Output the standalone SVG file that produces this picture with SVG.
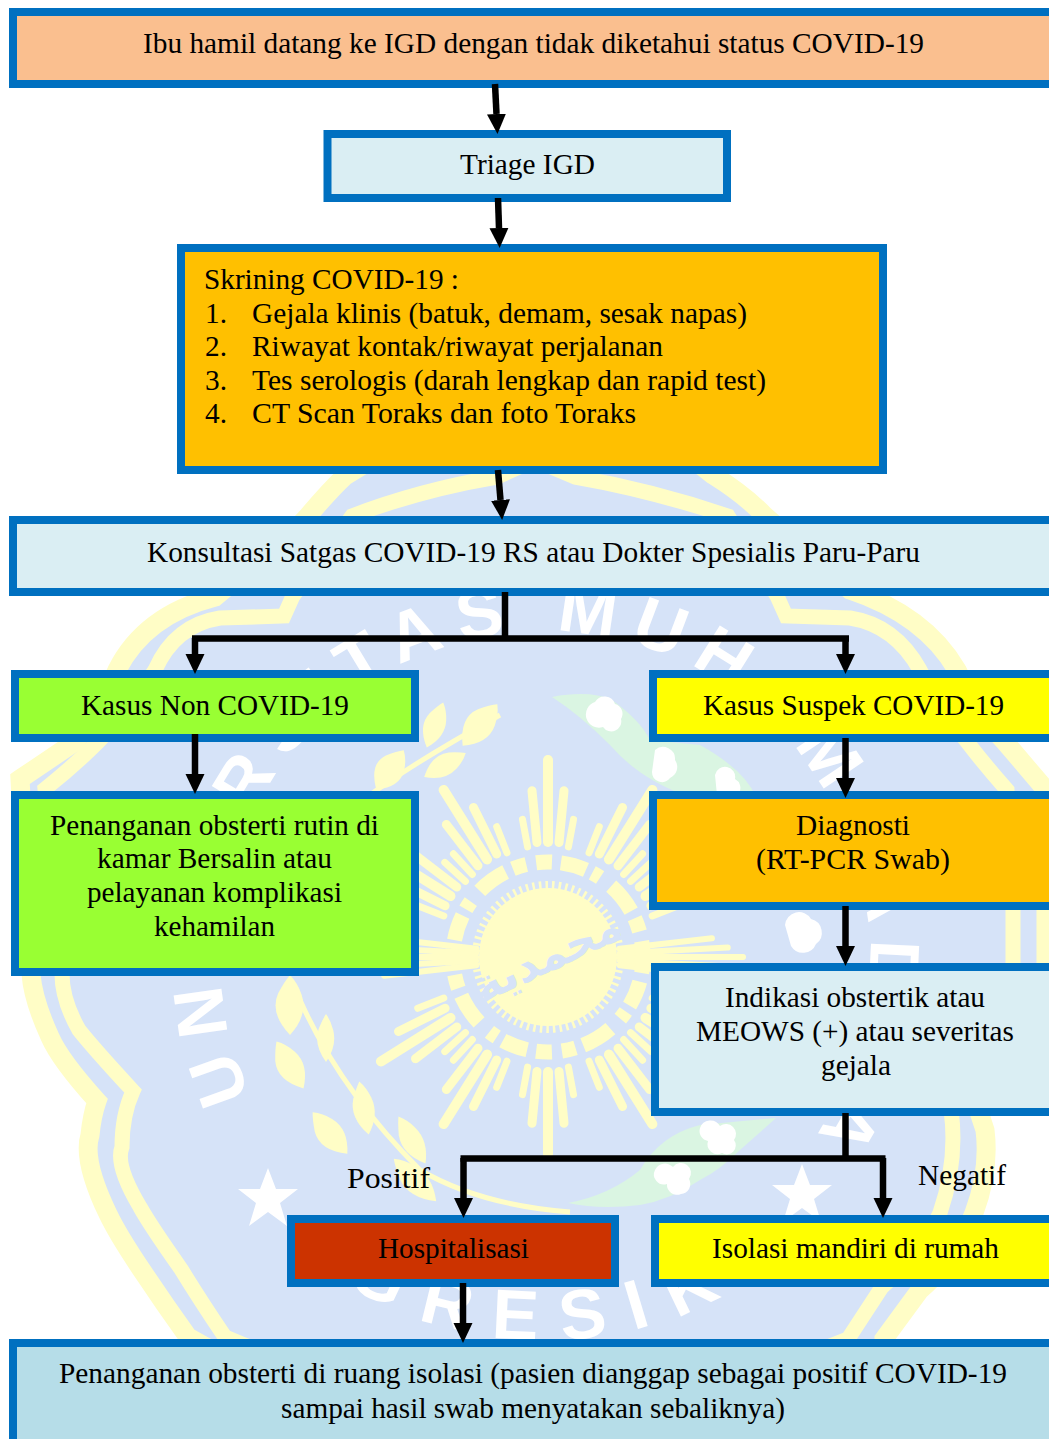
<svg xmlns="http://www.w3.org/2000/svg" xmlns:xlink="http://www.w3.org/1999/xlink" width="1049" height="1439" viewBox="0 0 1049 1439">
<style>
text{font-family:"Liberation Serif","Times New Roman",serif;font-size:29.3px;fill:#000}
.box{stroke:#0070C0;stroke-width:8}
.pale{fill:#DAEEF3}.gold{fill:#FFC000}.lime{fill:#99FF33}.yel{fill:#FFFF00}
.c{fill:none;stroke:#000;stroke-width:6.5}
.ray{stroke:#FFFDC6;stroke-linecap:round;fill:none}
.lf{fill:#FFFDC6}
.wm{font-family:"Liberation Sans",Arial,sans-serif;font-weight:700;font-size:70px;fill:#fff}
.isl{fill:#DAF5E2}.blob{fill:#fff}
</style>
<defs>
<marker id="a" markerUnits="userSpaceOnUse" markerWidth="20" markerHeight="20" refX="0" refY="10" orient="auto"><path d="M0 .5L20 10L0 19.5Z" fill="#000"/></marker>
<clipPath id="pg"><rect x="10" y="0" width="1039" height="1439"/></clipPath>
<path id="top" d="M279 1143A325 325 0 1 1 811 1143"/>
<path id="bot" d="M162 957A383 383 0 0 0 928 957"/>
<g id="cl">
<path class="ray" stroke-width="10" d="M0-115V-197"/>
<path class="ray" stroke-width="9" d="M0-115V-167" transform="rotate(5.5)"/>
<path class="ray" stroke-width="9" d="M0-115V-167" transform="rotate(-5.5)"/>
<path class="ray" stroke-width="7" d="M0-112V-140" transform="rotate(10.5)"/>
<path class="ray" stroke-width="7" d="M0-112V-140" transform="rotate(-10.5)"/>
</g>
<g id="th">
<path class="ray" stroke-width="6" d="M0-72V-195"/>
<path class="ray" stroke-width="6" d="M0-72V-180" transform="rotate(3)"/>
<path class="ray" stroke-width="6" d="M0-72V-180" transform="rotate(-3)"/>
<path class="ray" stroke-width="6" d="M0-72V-165" transform="rotate(6.5)"/>
<path class="ray" stroke-width="6" d="M0-72V-165" transform="rotate(-6.5)"/>
</g>
<path id="lf" d="M0 30Q-16 8-9-12Q-4-24 0-30Q6-22 9-10Q14 10 0 30Z"/>
<polygon id="st" points="0,-29 8,-8 30,-8 12,6 19,29 0,15 -19,29 -12,6 -30,-8 -8,-8"/>
</defs>
<rect width="1049" height="1439" fill="#fff"/>
<g id="watermark" clip-path="url(#pg)">
<path fill="#D6E3F8" stroke="#FFFDC6" stroke-width="19" stroke-linejoin="miter" d="M20 779L75 742Q100 712 117 670Q145 615 215 597L290 535L308 516Q330 490 345 476Q430 420 535 430Q650 420 713 475Q745 495 765 516L850 590Q925 615 957 670Q975 710 1006 743L1046 790L1046 962Q1045 1040 975 1100L985 1130Q990 1170 974 1213Q955 1260 920 1290L884 1339L884 1380Q700 1430 535 1430Q350 1430 188 1337Q165 1305 143 1272Q118 1235 108 1214Q82 1160 90 1135Q92 1115 97 1101Q60 1060 50 1037Q33 1000 31 974Z"/>
<path fill="#D6E3F8" stroke="#FFFDC6" stroke-width="15" stroke-linejoin="miter" d="M45 789Q75 765 98 742Q130 710 155 670Q175 625 220 618L284 616L293 596L352 516Q420 490 497 477L535 460L575 477Q650 490 728 516L777 596L786 616L850 618Q895 625 920 670Q940 710 968 743Q985 765 1007 790L1013 910L1013 962Q1010 1040 945 1090L951 1110Q958 1160 940 1213Q920 1255 882 1287L848 1339Q700 1400 535 1400Q370 1400 225 1337Q200 1300 181 1269Q150 1225 140 1207Q115 1165 122 1147Q122 1115 133 1091Q95 1050 79 1030Q62 1000 62 974Z"/>
<text class="wm" letter-spacing="15"><textPath href="#top" xlink:href="#top" startOffset="55">UNIVERSITAS MUHAMMADIYAH</textPath></text>
<text class="wm" letter-spacing="25" text-anchor="middle"><textPath href="#bot" xlink:href="#bot" startOffset="50%">GRESIK</textPath></text>
<use href="#st" xlink:href="#st" x="268" y="1197" fill="#fff"/>
<use href="#st" xlink:href="#st" x="802" y="1193" fill="#fff"/>
<g id="islands">
<path class="isl" d="M552 697Q590 690 612 700Q640 720 650 740L700 745Q745 770 756 797L690 797Q640 780 610 745Q580 715 552 697Z"/>
<path class="blob" d="M595 702a11 11 0 0 1 20 2a10 10 0 0 1 6 15a10 10 0 0 1-18 8a12 12 0 0 1-8-25ZM655 750a12 12 0 0 1 20 10a12 12 0 0 1-5 18a10 10 0 0 1-18-6ZM715 775a10 10 0 0 1 20 4a10 10 0 0 1 4 14a10 10 0 0 1-22 2Z"/>
<path class="isl" d="M568 1203Q610 1195 640 1170Q660 1135 700 1125L776 1118L740 1150Q720 1170 700 1180Q670 1200 640 1205Q600 1210 568 1203Z"/>
<path class="blob" d="M700 1128a11 11 0 0 1 20-2a10 10 0 0 1 14 14a9 9 0 0 1-12 13a10 10 0 0 1-14-12a10 10 0 0 1-8-13ZM655 1170a11 11 0 0 1 18-3a10 10 0 0 1 16 12a10 10 0 0 1-8 15a10 10 0 0 1-14-10a10 10 0 0 1-12-14Z"/>
<path class="blob" d="M785 925a14 14 0 0 1 26-6a14 14 0 0 1 5 25a14 14 0 0 1-25 2Z"/>
</g>
<g id="wreath">
<use class="lf" href="#lf" xlink:href="#lf" transform="translate(290 1005) scale(1.3 1)"/>
<use class="lf" href="#lf" xlink:href="#lf" transform="translate(326 1038) scale(.8)"/>
<use class="lf" href="#lf" xlink:href="#lf" transform="translate(290 1065) rotate(-30) scale(1.2 .9)"/>
<use class="lf" href="#lf" xlink:href="#lf" transform="translate(364 1108) rotate(-10) scale(1 .9)"/>
<use class="lf" href="#lf" xlink:href="#lf" transform="translate(330 1133) rotate(-40) scale(1.2 .9)"/>
<use class="lf" href="#lf" xlink:href="#lf" transform="translate(412 1140) rotate(-30) scale(1 .9)"/>
<use class="lf" href="#lf" xlink:href="#lf" transform="translate(415 1180) rotate(-45) scale(1.1 1)"/>
<path d="M300 1000Q340 1090 420 1170Q480 1205 570 1212" fill="none" stroke="#FFFDC6" stroke-width="5"/>
<use class="lf" href="#lf" xlink:href="#lf" transform="translate(480 725) rotate(40) scale(1.3 .9)"/>
<use class="lf" href="#lf" xlink:href="#lf" transform="translate(435 725) rotate(20) scale(1 .8)"/>
<use class="lf" href="#lf" xlink:href="#lf" transform="translate(390 770) rotate(35) scale(1.3 .8)"/>
<use class="lf" href="#lf" xlink:href="#lf" transform="translate(445 765) rotate(60) scale(1 .8)"/>
<path d="M350 810Q400 770 500 715" fill="none" stroke="#FFFDC6" stroke-width="5"/>
</g>
<g id="sun" transform="translate(548 957)">
<use href="#cl" xlink:href="#cl"/>
<use href="#cl" xlink:href="#cl" transform="rotate(32)"/>
<use href="#cl" xlink:href="#cl" transform="rotate(-32)"/>
<use href="#cl" xlink:href="#cl" transform="rotate(58)"/>
<use href="#cl" xlink:href="#cl" transform="rotate(-58)"/>
<use href="#th" xlink:href="#th" transform="rotate(90)"/>
<use href="#th" xlink:href="#th" transform="rotate(-90)"/>
<use href="#cl" xlink:href="#cl" transform="rotate(122)"/>
<use href="#cl" xlink:href="#cl" transform="rotate(-122)"/>
<use href="#cl" xlink:href="#cl" transform="rotate(148)"/>
<use href="#cl" xlink:href="#cl" transform="rotate(-148)"/>
<use href="#cl" xlink:href="#cl" transform="rotate(180)"/>
<circle r="95" fill="none" stroke="#FFFDC6" stroke-width="15" stroke-dasharray="16 9 26 7 9 14 32 8 14 10"/>
<circle r="69" fill="#FFFDC6"/>
<circle r="71" fill="none" stroke="#FFFDC6" stroke-width="10" stroke-dasharray="2.5 4"/>
<text transform="rotate(-25)" x="0" y="14" text-anchor="middle" style="font-family:'DejaVu Sans',sans-serif;font-weight:700;font-size:44px;fill:#D6E3F8">محمدية</text>
</g>
</g>
<g id="n1"><rect class="box" x="13" y="12" width="1050" height="72" fill="#FABF8F"/><text x="143" y="53" textLength="781" lengthAdjust="spacingAndGlyphs">Ibu hamil datang ke IGD dengan tidak diketahui status COVID-19</text></g>
<g id="n2"><rect class="box pale" x="327.500" y="134" width="399.500" height="64"/><text x="460" y="174" textLength="135" lengthAdjust="spacingAndGlyphs">Triage IGD</text></g>
<g id="n3"><rect class="box gold" x="181" y="248" width="702" height="222"/>
<text x="204" y="289" textLength="255" lengthAdjust="spacingAndGlyphs">Skrining COVID-19 :</text>
<text x="205" y="323">1.</text><text x="252" y="323" textLength="495" lengthAdjust="spacingAndGlyphs">Gejala klinis (batuk, demam, sesak napas)</text>
<text x="205" y="356">2.</text><text x="252" y="356" textLength="411" lengthAdjust="spacingAndGlyphs">Riwayat kontak/riwayat perjalanan</text>
<text x="205" y="390">3.</text><text x="252" y="390" textLength="514" lengthAdjust="spacingAndGlyphs">Tes serologis (darah lengkap dan rapid test)</text>
<text x="205" y="423">4.</text><text x="252" y="423" textLength="384" lengthAdjust="spacingAndGlyphs">CT Scan Toraks dan foto Toraks</text></g>
<g id="n4"><rect class="box pale" x="13" y="520" width="1050" height="72"/><text x="147" y="562" textLength="773" lengthAdjust="spacingAndGlyphs">Konsultasi Satgas COVID-19 RS atau Dokter Spesialis Paru-Paru</text></g>
<g id="n5"><rect class="box lime" x="15" y="674" width="400" height="64"/><text x="81" y="715" textLength="268" lengthAdjust="spacingAndGlyphs">Kasus Non COVID-19</text></g>
<g id="n6"><rect class="box yel" x="653" y="674" width="410" height="64"/><text x="703" y="715" textLength="301" lengthAdjust="spacingAndGlyphs">Kasus Suspek COVID-19</text></g>
<g id="n7"><rect class="box lime" x="15" y="795" width="400" height="177"/>
<text x="50" y="835" textLength="329" lengthAdjust="spacingAndGlyphs">Penanganan obsterti rutin di</text>
<text x="97" y="868" textLength="235" lengthAdjust="spacingAndGlyphs">kamar Bersalin atau</text>
<text x="87" y="902" textLength="255" lengthAdjust="spacingAndGlyphs">pelayanan komplikasi</text>
<text x="154" y="936" textLength="121" lengthAdjust="spacingAndGlyphs">kehamilan</text></g>
<g id="n8"><rect class="box gold" x="653" y="795" width="410" height="111"/>
<text x="796" y="835" textLength="114" lengthAdjust="spacingAndGlyphs">Diagnosti</text>
<text x="756" y="869" textLength="194" lengthAdjust="spacingAndGlyphs">(RT-PCR Swab)</text></g>
<g id="n9"><rect class="box pale" x="655" y="967" width="410" height="145"/>
<text x="725" y="1007" textLength="260" lengthAdjust="spacingAndGlyphs">Indikasi obstertik atau</text>
<text x="696" y="1041" textLength="318" lengthAdjust="spacingAndGlyphs">MEOWS (+) atau severitas</text>
<text x="821" y="1075" textLength="70" lengthAdjust="spacingAndGlyphs">gejala</text></g>
<g id="n10"><rect class="box" x="291" y="1219" width="324" height="64" fill="#CC3300"/><text x="378" y="1258" textLength="151" lengthAdjust="spacingAndGlyphs">Hospitalisasi</text></g>
<g id="n11"><rect class="box yel" x="655" y="1219" width="410" height="64"/><text x="712" y="1258" textLength="287" lengthAdjust="spacingAndGlyphs">Isolasi mandiri di rumah</text></g>
<g id="n12"><rect class="box" x="13" y="1343" width="1050" height="110" fill="#B6DDE8"/>
<text x="59" y="1383" textLength="948" lengthAdjust="spacingAndGlyphs">Penanganan obsterti di ruang isolasi (pasien dianggap sebagai positif COVID-19</text>
<text x="281" y="1418" textLength="504" lengthAdjust="spacingAndGlyphs">sampai hasil swab menyatakan sebaliknya)</text></g>
<g id="labels">
<text x="347" y="1188" textLength="83" lengthAdjust="spacingAndGlyphs">Positif</text>
<text x="918" y="1185" textLength="88" lengthAdjust="spacingAndGlyphs">Negatif</text>
</g>
<g id="connectors">
<path class="c" marker-end="url(#a)" d="M495 84L496.500 114"/>
<path class="c" marker-end="url(#a)" d="M498 198L499 228"/>
<path class="c" marker-end="url(#a)" d="M498 470L500.500 500"/>
<path class="c" d="M505 592V638M192 638.500H849"/>
<path class="c" marker-end="url(#a)" d="M195 638V654"/>
<path class="c" marker-end="url(#a)" d="M845.500 638V654"/>
<path class="c" marker-end="url(#a)" d="M195 734V774"/>
<path class="c" marker-end="url(#a)" d="M845.500 738V778"/>
<path class="c" marker-end="url(#a)" d="M845.500 906V946"/>
<path class="c" d="M845.500 1113V1158M460.500 1158.500H885.500"/>
<path class="c" marker-end="url(#a)" d="M463.500 1158V1198"/>
<path class="c" marker-end="url(#a)" d="M883 1158V1198"/>
<path class="c" marker-end="url(#a)" d="M463 1283V1323"/>
</g>
</svg>
